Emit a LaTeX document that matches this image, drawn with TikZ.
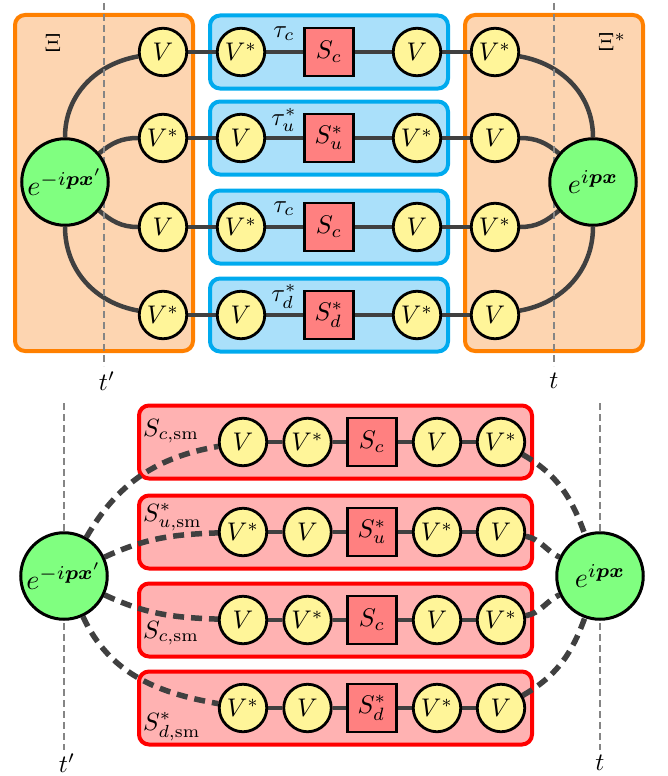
\documentclass[tikz,border=0pt]{standalone}
\usepackage{amsmath}
\usepackage{graphicx}
\definecolor{vyellow}{HTML}{FFF599}
\definecolor{ggreen}{HTML}{80FF80}
\definecolor{sred}{HTML}{FF8080}
\definecolor{boxorange}{HTML}{FDD5B1}
\definecolor{edgeorange}{HTML}{FF8000}
\definecolor{boxblue}{HTML}{AAE0FA}
\definecolor{edgeblue}{HTML}{00AAEE}
\definecolor{boxred}{HTML}{FFB2B2}
\definecolor{edgered}{HTML}{FF0000}
\definecolor{wiregray}{HTML}{404040}
\definecolor{guidegray}{HTML}{858585}
% math set at 10pt and scaled up, so every size is exact
\newcommand\nodetext[1]{\scalebox{2.55}{$#1$}}
\newcommand\labeltext[1]{\scalebox{2.5}{$#1$}}
\newcommand\phasetext[1]{\scalebox{2.8}{$#1$}}
\pgfdeclarelayer{boxes}
\pgfdeclarelayer{wires}
\pgfdeclarelayer{guides}
\pgfsetlayers{boxes,wires,guides,main}
\tikzset{
  vnode/.style={circle, draw=black, line width=2.8pt, fill=vyellow,
    minimum size=47.5pt, inner sep=0pt},
  snode/.style={rectangle, draw=black, line width=2.8pt, fill=sred,
    minimum width=49.5pt, minimum height=48pt, inner sep=0pt},
  gnode/.style={circle, draw=black, line width=3pt, fill=ggreen,
    minimum size=86.5pt, inner sep=0pt},
  lab/.style={inner sep=0pt},
  obox/.style={rectangle, rounded corners=10pt, draw=edgeorange, line width=4pt,
    fill=boxorange, minimum width=178pt, minimum height=336pt},
  bbox/.style={rectangle, rounded corners=10pt, draw=edgeblue, line width=4pt,
    fill=boxblue, minimum width=238pt, minimum height=73pt},
  rbox/.style={rectangle, rounded corners=10pt, draw=edgered, line width=4pt,
    fill=boxred, minimum width=393pt, minimum height=73pt},
  wire/.style={draw=wiregray, line width=4.5pt},
  dwire/.style={draw=wiregray, line width=5.5pt, dash pattern=on 11pt off 7pt},
  guide/.style={draw=guidegray, line width=2.2pt, dash pattern=on 7pt off 4pt},
}
\begin{document}
\begin{tikzpicture}[x=1pt,y=1pt]
\useasboundingbox (0,0) rectangle (667,-776);

% ---------- upper diagram ----------
\begin{pgfonlayer}{boxes}
  \node[obox] (xil) at (104,-183) {};
  \node[obox] (xir) at (554,-183) {};
\end{pgfonlayer}
\node[lab] (xi) at (53,-43) {\labeltext{\Xi}};
\node[lab] (xis) at (612,-42) {\labeltext{\Xi^*}};

\node[gnode] (gl) at (65,-182) {\phasetext{e^{-i\boldsymbol{p}\boldsymbol{x}'}}};
\node[gnode] (gr) at (593,-182) {\phasetext{e^{i\boldsymbol{p}\boldsymbol{x}}}};

\foreach \r/\y/\ta/\tb/\ts/\tt/\tc/\td/\dy in {
    1/52/V/V^*/S_c/\tau_c/V/V^*/11,
    2/138/V^*/V/S_u^*/\tau_u^*/V^*/V/6,
    3/227/V/V^*/S_c/\tau_c/V/V^*/11,
    4/315/V^*/V/S_d^*/\tau_d^*/V^*/V/6}{
  \node[vnode] (L\r) at (163,-\y) {\nodetext{\ta}};
  \node[vnode] (A\r) at (241,-\y) {\nodetext{\tb}};
  \node[snode] (S\r) at (329,-\y) {\nodetext{\ts}};
  \node[vnode] (B\r) at (417,-\y) {\nodetext{\tc}};
  \node[vnode] (R\r) at (495,-\y) {\nodetext{\td}};
  \node[lab, anchor=south] (tau\r) at (284,-\y+\dy) {\labeltext{\tt}};
  \begin{pgfonlayer}{boxes}
    \node[bbox] (bb\r) at (329,-\y) {};
  \end{pgfonlayer}
  \begin{pgfonlayer}{wires}
    \draw[wire] (L\r) -- (A\r) -- (S\r) -- (B\r) -- (R\r);
  \end{pgfonlayer}
}

\begin{pgfonlayer}{wires}
  \draw[wire] (gl) to[out=90,in=190] (L1);
  \draw[wire] (gl) to[out=40,in=180] (L2);
  \draw[wire] (gl) to[out=-40,in=180] (L3);
  \draw[wire] (gl) to[out=-90,in=170] (L4);
  \draw[wire] (R1) to[out=-10,in=90] (gr);
  \draw[wire] (R2) to[out=0,in=140] (gr);
  \draw[wire] (R3) to[out=0,in=-140] (gr);
  \draw[wire] (R4) to[out=10,in=-90] (gr);
\end{pgfonlayer}

\begin{pgfonlayer}{guides}
  \coordinate (tpa) at (104,-3);
  \coordinate (tpb) at (104,-366);
  \coordinate (tqa) at (554,-3);
  \coordinate (tqb) at (554,-366);
  \draw[guide] (tpa) -- (tpb);
  \draw[guide] (tqa) -- (tqb);
\end{pgfonlayer}
\node[lab] (tp) at (107,-381) {\labeltext{t'}};
\node[lab] (tq) at (554,-381) {\labeltext{t}};

% ---------- lower diagram ----------
\node[gnode] (GL) at (64,-576) {\phasetext{e^{-i\boldsymbol{p}\boldsymbol{x}'}}};
\node[gnode] (GR) at (600,-576) {\phasetext{e^{i\boldsymbol{p}\boldsymbol{x}}}};

\foreach \r/\y/\ta/\tb/\ts/\tc/\td/\tl/\dy in {
    1/442/V/V^*/S_c/V/V^*/S_{c,\mathrm{sm}}/6,
    2/532/V^*/V/S_u^*/V^*/V/S^*_{u,\mathrm{sm}}/11,
    3/620/V/V^*/S_c/V/V^*/S_{c,\mathrm{sm}}/-18,
    4/708/V^*/V/S_d^*/V^*/V/S^*_{d,\mathrm{sm}}/-22}{
  \node[vnode] (P\r) at (243,-\y) {\nodetext{\ta}};
  \node[vnode] (Pb\r) at (307.5,-\y) {\nodetext{\tb}};
  \node[snode] (Ps\r) at (372,-\y) {\nodetext{\ts}};
  \node[vnode] (Pc\r) at (437,-\y) {\nodetext{\tc}};
  \node[vnode] (Q\r) at (501,-\y) {\nodetext{\td}};
  \node[lab, anchor=base west] (sl\r) at (143,-\y+\dy) {\labeltext{\tl}};
  \begin{pgfonlayer}{boxes}
    \node[rbox] (rb\r) at (335.5,-\y) {};
  \end{pgfonlayer}
  \begin{pgfonlayer}{wires}
    \draw[wire] (P\r) -- (Pb\r) -- (Ps\r) -- (Pc\r) -- (Q\r);
  \end{pgfonlayer}
}

\begin{pgfonlayer}{wires}
  \draw[dwire] (GL) to[out=60,in=190] (P1);
  \draw[dwire] (GL) to[out=25,in=182] (P2);
  \draw[dwire] (GL) to[out=-25,in=178] (P3);
  \draw[dwire] (GL) to[out=-65,in=170] (P4);
  \draw[dwire] (Q1) to[out=-30,in=110] (GR);
  \draw[dwire] (Q2) to[out=-10,in=155] (GR);
  \draw[dwire] (Q3) to[out=10,in=-155] (GR);
  \draw[dwire] (Q4) to[out=30,in=-110] (GR);
\end{pgfonlayer}

\begin{pgfonlayer}{guides}
  \coordinate (bpa) at (64,-403);
  \coordinate (bpb) at (64,-750);
  \coordinate (bqa) at (600,-403);
  \coordinate (bqb) at (600,-750);
  \draw[guide] (bpa) -- (bpb);
  \draw[guide] (bqa) -- (bqb);
\end{pgfonlayer}
\node[lab] (bp) at (67,-763) {\labeltext{t'}};
\node[lab] (bq) at (600,-763) {\labeltext{t}};
\end{tikzpicture}
\end{document}
